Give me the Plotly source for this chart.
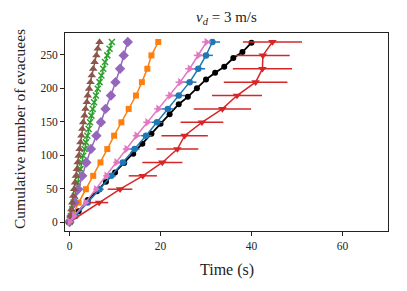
import plotly.graph_objects as go

# ---- data ----
levels20 = [0, 9, 29, 49, 69, 89, 109, 129, 149, 169, 189, 209, 229, 249, 269]
levels10 = [0, 9, 19, 29, 39, 49, 59, 69, 79, 89, 99, 109, 119, 129, 139, 149,
            159, 169, 179, 189, 199, 209, 219, 229, 239, 249, 259, 269]

# experiment (black): counts every 2 s
black_t = [0, 2, 4, 6, 8, 10, 12, 14, 16, 18, 20, 22, 24, 26, 28, 30, 32, 34, 36, 38, 40]
black_n = [0, 16, 33, 46, 60, 74, 88, 102, 117, 132, 147, 161, 176, 187, 200, 213, 223, 232, 245, 254, 268]

blue_t = [0, 1.3, 4.0, 6.6, 9.2, 11.7, 14.3, 16.8, 19.2, 21.6, 24.0, 26.4, 28.3, 30.0, 31.4]
blue_err = [0, 0.6, 0.8, 0.9, 1.0, 1.0, 1.1, 1.2, 1.2, 1.3, 1.4, 1.5, 1.5, 1.5, 1.7]

pink_t = [0, 1.0, 3.5, 5.8, 8.1, 10.3, 12.5, 14.7, 17.1, 19.5, 22.1, 24.3, 26.4, 28.3, 30.1]
pink_err = [0, 0.4, 0.5, 0.6, 0.7, 0.7, 0.8, 0.8, 0.9, 0.9, 1.0, 1.0, 1.0, 1.0, 1.0]

orange_t = [0, 0.6, 2.0, 3.6, 5.2, 6.8, 8.3, 9.8, 11.4, 13.0, 14.6, 15.9, 17.1, 18.0, 19.5]

purple_t = [0, 0.4, 1.1, 1.9, 2.8, 3.7, 4.7, 5.9, 6.9, 7.9, 9.1, 10.1, 11.1, 11.9, 12.8]

red_n = [0, 29, 49, 69, 89, 109, 129, 149, 169, 189, 209, 229, 249, 269]
red_t = [0, 6.5, 11.1, 16.1, 20.4, 23.7, 25.3, 29.1, 33.6, 36.8, 40.9, 42.4, 42.5, 44.6]
red_err = [0, 2.0, 2.7, 3.1, 4.4, 4.6, 5.1, 4.7, 6.3, 5.5, 7.0, 6.5, 5.9, 6.5]

green_t = [0, 0.3, 0.6, 0.9, 1.2, 1.5, 1.8, 2.1, 2.4, 2.7, 3.0, 3.3, 3.6, 3.9, 4.2,
           4.5, 4.8, 5.1, 5.4, 5.8, 6.2, 6.6, 7.0, 7.4, 7.8, 8.3, 8.8, 9.3]

brown_t = [0, 0.2, 0.4, 0.6, 0.8, 1.0, 1.2, 1.4, 1.6, 1.8, 2.0, 2.2, 2.4, 2.6, 2.8,
           3.0, 3.3, 3.5, 3.8, 4.0, 4.3, 4.6, 4.9, 5.2, 5.5, 5.9, 6.2, 6.6]

x_ticks = [0, 20, 40, 60]
y_ticks = [0, 50, 100, 150, 200, 250]

FONT = "Liberation Serif"
INK = "#222"

fig = go.Figure()

fig.add_trace(go.Scatter(x=black_t, y=black_n, mode="lines+markers",
                         line=dict(color="black", width=1.8),
                         marker=dict(symbol="circle", size=6, color="black")))
fig.add_trace(go.Scatter(x=blue_t, y=levels20, mode="lines+markers",
                         line=dict(color="#1f77b4", width=1.5),
                         marker=dict(symbol="circle", size=6.5, color="#1f77b4"),
                         error_x=dict(type="data", array=blue_err, color="#1f77b4",
                                      thickness=1.5, width=0)))
fig.add_trace(go.Scatter(x=orange_t, y=levels20, mode="lines+markers",
                         line=dict(color="#ff7f0e", width=1.5),
                         marker=dict(symbol="square", size=6, color="#ff7f0e")))
fig.add_trace(go.Scatter(x=green_t, y=levels10, mode="lines+markers",
                         line=dict(color="#2ca02c", width=1.5),
                         marker=dict(symbol="x-thin", size=6,
                                     line=dict(color="#2ca02c", width=1.5))))
fig.add_trace(go.Scatter(x=red_t, y=red_n, mode="lines+markers",
                         line=dict(color="#d62728", width=1.5),
                         marker=dict(symbol="triangle-down", size=7.5, color="#d62728"),
                         error_x=dict(type="data", array=red_err, color="#d62728",
                                      thickness=1.5, width=0)))
fig.add_trace(go.Scatter(x=purple_t, y=levels20, mode="lines+markers",
                         line=dict(color="#9467bd", width=1.5),
                         marker=dict(symbol="diamond", size=8, color="#9467bd")))
fig.add_trace(go.Scatter(x=brown_t, y=levels10, mode="lines+markers",
                         line=dict(color="#8c564b", width=1.5),
                         marker=dict(symbol="triangle-up", size=7.5, color="#8c564b")))
fig.add_trace(go.Scatter(x=pink_t, y=levels20, mode="lines+markers",
                         line=dict(color="#e377c2", width=1.5),
                         marker=dict(symbol="triangle-right", size=7.5, color="#e377c2"),
                         error_x=dict(type="data", array=pink_err, color="#e377c2",
                                      thickness=1.5, width=0)))

axis_common = dict(showgrid=False, zeroline=False, showline=True, linecolor=INK,
                   linewidth=1, mirror=True, ticks="outside", ticklen=4,
                   tickwidth=1, tickcolor=INK,
                   tickfont=dict(family=FONT, size=11.5, color=INK))

# the page body has an 8px margin, so the figure is sized 8px smaller
fig.update_layout(
    width=399, height=283,
    margin=dict(l=57, r=19, t=25, b=60),
    paper_bgcolor="white", plot_bgcolor="white",
    showlegend=False,
    xaxis=dict(range=[-1, 70], tickvals=x_ticks, **axis_common),
    yaxis=dict(range=[-13.45, 282.45], tickvals=y_ticks, **axis_common),
)
fig.add_annotation(text="<i>v</i><sub><i>d</i></sub> = 3 m/s", xref="paper", yref="paper",
                   x=0.5, y=1.0, yshift=4, showarrow=False, xanchor="center",
                   yanchor="bottom",
                   font=dict(family=FONT, size=15, color=INK))
fig.add_annotation(text="Time (s)", xref="paper", yref="paper", x=0.5, y=0,
                   yshift=-39, xanchor="center", yanchor="middle", showarrow=False,
                   font=dict(family=FONT, size=16, color=INK))
fig.add_annotation(text="Cumulative number of evacuees", xref="paper", yref="paper",
                   x=0, y=0.5, xshift=-46, yshift=3, xanchor="center", yanchor="middle",
                   textangle=-90, showarrow=False,
                   font=dict(family=FONT, size=15.5, color=INK))

fig.write_html("out.html")
